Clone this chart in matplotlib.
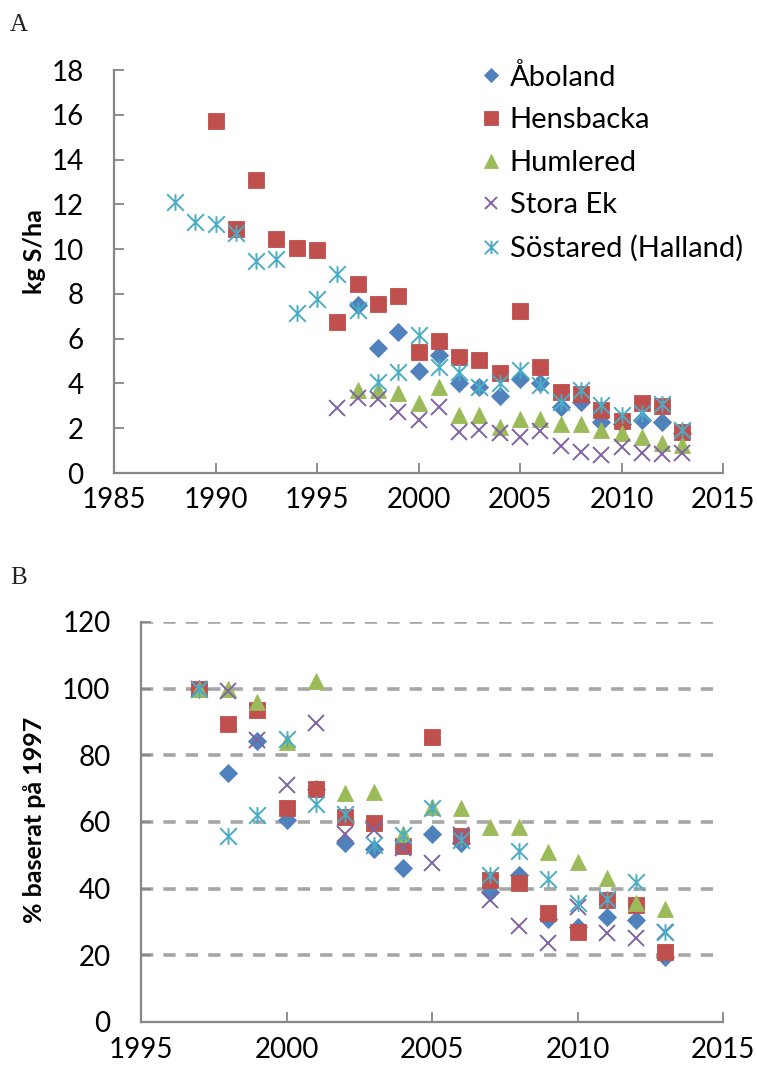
import matplotlib
matplotlib.use('Agg')
import matplotlib.pyplot as plt
from matplotlib.path import Path

plt.rcParams['font.family'] = ['Lato', 'DejaVu Sans']

series_names = ['Åboland', 'Hensbacka', 'Humlered', 'Stora Ek', 'Söstared (Halland)']
colors = ['#4F81BD', '#C0504D', '#9BBB59', '#8064A2', '#4BACC6']

# ---- Panel A: kg S/ha ----
a_years_aboland = list(range(1997, 2014))
a_aboland = [7.5, 5.6, 6.31, 4.57, 5.27, 4.0, 3.86, 3.45, 4.18, 4.03, 2.96, 3.18, 2.3, 2.2, 2.37, 2.29, 1.8]
a_years_hensbacka = list(range(1990, 2014))
a_hensbacka = [15.7, 10.9, 13.09, 10.45, 10.03, 9.96, 6.76, 8.45, 7.55, 7.9, 5.42, 5.9, 5.2, 5.05, 4.48,
               7.24, 4.75, 3.63, 3.53, 2.81, 2.34, 3.11, 2.99, 1.85]
a_years_humlered = list(range(1997, 2014))
a_humlered = [3.7, 3.7, 3.56, 3.11, 3.83, 2.59, 2.59, 2.07, 2.41, 2.4, 2.2, 2.2, 1.91, 1.8, 1.61, 1.35, 1.25]
a_years_storaek = list(range(1996, 2014))
a_storaek = [2.89, 3.33, 3.29, 2.74, 2.37, 2.96, 1.85, 1.92, 1.77, 1.59, 1.88, 1.22, 0.95, 0.8, 1.15, 0.91, 0.83, 0.91]
a_years_sostared = list(range(1988, 2014))
a_sostared = [12.12, 11.2, 11.11, 10.7, 9.47, 9.54, 7.13, 7.76, 8.9, 7.26, 4.08, 4.52, 6.16, 4.75, 4.52,
              3.85, 4.0, 4.6, 3.93, 3.18, 3.7, 3.04, 2.59, 2.69, 3.08, 1.92]

# ---- Panel B: % baserat på 1997 ----
b_years = list(range(1997, 2014))
b_aboland = [100, 74.8, 84.4, 60.6, 70, 53.6, 51.8, 46.1, 56.4, 53.8, 39.1, 44.1, 31, 28.5, 31.4, 30.6, 19.5]
b_hensbacka = [100, 89.3, 93.6, 64.1, 69.8, 61.6, 59.8, 52.8, 85.5, 55.8, 42.6, 41.6, 32.6, 27.1, 36.6, 35.1, 21.1]
b_humlered = [100, 100, 96.1, 84, 102.4, 68.8, 69.1, 56.4, 64.5, 64.1, 58.6, 58.6, 51.1, 48.1, 43.1, 35.8, 33.8]
b_storaek = [100, 99.4, 84.5, 71.1, 89.6, 56.4, 57.6, 52.1, 47.6, 56.1, 36.6, 28.9, 23.8, 34.4, 26.8, 25.1, 27.1]
b_sostared = [100, 55.9, 62.1, 84.8, 65.4, 62.4, 53.1, 56.1, 64.1, 54.6, 44.1, 51.4, 42.8, 35.6, 36.8, 42.1, 27.1]

a_xticks = [1985, 1990, 1995, 2000, 2005, 2010, 2015]
a_yticks = [0, 2, 4, 6, 8, 10, 12, 14, 16, 18]
b_xticks = [1995, 2000, 2005, 2010, 2015]
b_yticks = [0, 20, 40, 60, 80, 100, 120]

star = Path([(-1, -1), (1, 1), (-1, 1), (1, -1), (0, -1), (0, 1)],
            [Path.MOVETO, Path.LINETO, Path.MOVETO, Path.LINETO, Path.MOVETO, Path.LINETO])
marker_styles = [
    dict(marker='D', ms=9, mew=0.6),
    dict(marker='s', ms=12, mew=0.6),
    dict(marker='^', ms=12, mew=0.6),
    dict(marker='x', ms=11.5, mew=1.4),
    dict(marker=star, ms=12, mew=1.4),
]
filled = [True, True, True, False, False]

W, H = 757, 1077
fig = plt.figure(figsize=(W / 100, H / 100), dpi=100)

def ax_rect(l, r, t, b):
    return [l / W, 1 - b / H, (r - l) / W, (b - t) / H]

axA = fig.add_axes(ax_rect(114, 723, 70, 473))
axB = fig.add_axes(ax_rect(141, 723, 622, 1022))

spine_c = '#868686'

def style(ax, xt, yt, xpad, ypad):
    for s in ['top', 'right']:
        ax.spines[s].set_visible(False)
    for s in ['left', 'bottom']:
        ax.spines[s].set_color(spine_c)
        ax.spines[s].set_linewidth(1.6)
        ax.spines[s].set_zorder(5)
    ax.set_xticks(xt)
    ax.set_yticks(yt)
    ax.set_xlim(xt[0], xt[-1])
    ax.set_ylim(yt[0], yt[-1])
    ax.tick_params(axis='both', direction='in', length=7.5, width=1.3, color=spine_c,
                   labelsize=20, labelcolor='black')
    ax.tick_params(axis='x', pad=xpad)
    ax.tick_params(axis='y', pad=ypad)

def draw(ax, xs_list, ys_list):
    for i, (xs, ys) in enumerate(zip(xs_list, ys_list)):
        st = marker_styles[i]
        c = colors[i]
        ax.plot(xs, ys, linestyle='none', marker=st['marker'], ms=st['ms'], mew=st['mew'],
                mfc=c if filled[i] else 'none', mec=c, label=series_names[i], zorder=3 + i * 0.1,
                clip_on=False)

draw(axA, [a_years_aboland, a_years_hensbacka, a_years_humlered, a_years_storaek, a_years_sostared],
     [a_aboland, a_hensbacka, a_humlered, a_storaek, a_sostared])
style(axA, a_xticks, a_yticks, 10, 22)

leg = axA.legend(loc='upper left', bbox_to_anchor=(0.58, 1.045), frameon=False, fontsize=21,
                 markerscale=0.8, handlelength=0.8, handletextpad=0.25, labelspacing=0.57,
                 borderaxespad=0)

draw(axB, [b_years] * 5, [b_aboland, b_hensbacka, b_humlered, b_storaek, b_sostared])
style(axB, b_xticks, b_yticks, 11, 22)
axB.yaxis.grid(True, color='#A6A6A6', linewidth=2.6, linestyle=(0, (3.4, 2.8)))
axB.set_axisbelow(True)
axB.get_ygridlines()[0].set_visible(False)

fig.text(35 / W, 1 - 252 / H, 'kg S/ha', rotation=90, ha='center', va='center',
         fontsize=18, fontweight='bold')
fig.text(35 / W, 1 - 820 / H, '% baserat på 1997', rotation=90, ha='center', va='center',
         fontsize=18, fontweight='bold')
fig.text(19 / W, 1 - 25 / H, 'A', ha='center', va='center', fontsize=18,
         family=['Liberation Serif', 'DejaVu Serif'], color='#222222')
fig.text(19 / W, 1 - 578 / H, 'B', ha='center', va='center', fontsize=18,
         family=['Liberation Serif', 'DejaVu Serif'], color='#222222')

fig.savefig('out.png', dpi=100)
